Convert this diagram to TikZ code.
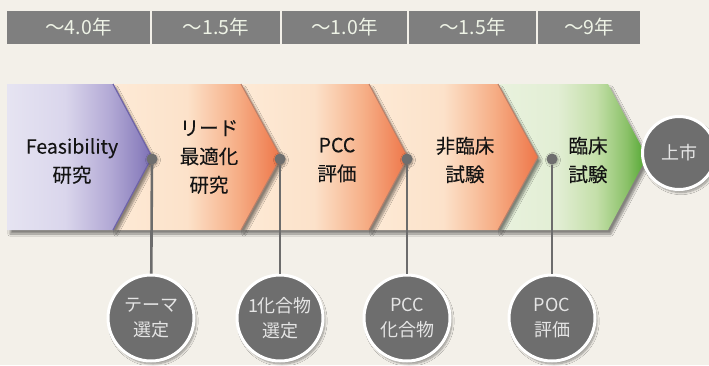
\documentclass[tikz,border=0pt]{standalone}
\usepackage{fontspec}
\setmainfont{Noto Sans CJK JP}
\newfontfamily\labfont{Noto Sans CJK JP}[FakeBold=0.15]
\usetikzlibrary{shadows,shadows.blur}
\definecolor{bg}{HTML}{F3F0E9}
\definecolor{bar}{HTML}{7F7F7F}
\definecolor{bartext}{HTML}{EEF3E6}
\definecolor{disc}{HTML}{6E6E6E}
\definecolor{stemc}{HTML}{6C6C6C}
\definecolor{oedge}{HTML}{B8806A}
\definecolor{pedge}{HTML}{6E63A8}
\definecolor{pA}{HTML}{E6E4F2}
\definecolor{pB}{HTML}{DAD6EC}
\definecolor{pC}{HTML}{B4ABD6}
\definecolor{pD}{HTML}{9186C1}
\definecolor{pE}{HTML}{7B6EB4}
\definecolor{oA}{HTML}{FDEAD6}
\definecolor{oB}{HTML}{FCE2CA}
\definecolor{oC}{HTML}{F6AE86}
\definecolor{oE}{HTML}{EE7548}
\definecolor{gA}{HTML}{E9F2DE}
\definecolor{gB}{HTML}{E2EED4}
\definecolor{gC}{HTML}{C4DFA9}
\definecolor{gD}{HTML}{8CC26A}
\definecolor{gE}{HTML}{4FA52E}
% stops 25bp..75bp span the path's bounding box
\pgfdeclarehorizontalshading{purpsh}{100bp}{%
  color(0bp)=(pA); color(25bp)=(pA); color(45bp)=(pB); color(60bp)=(pC);
  color(70bp)=(pD); color(75bp)=(pE); color(100bp)=(pE)}
\pgfdeclarehorizontalshading{orsh}{100bp}{%
  color(0bp)=(oA); color(25bp)=(oA); color(47bp)=(oB); color(62bp)=(oC);
  color(75bp)=(oE); color(100bp)=(oE)}
\pgfdeclarehorizontalshading{grsh}{100bp}{%
  color(0bp)=(gA); color(25bp)=(gA); color(45bp)=(gB); color(58bp)=(gC);
  color(68bp)=(gD); color(75bp)=(gE); color(100bp)=(gE)}
\tikzset{
  x=1pt, y=-1pt,
  yr/.style={fill=bar, text=bartext, minimum height=33pt, inner sep=0pt,
    font=\fontsize{19.5}{22}\selectfont},
  chev/.style={blur shadow={shadow xshift=3pt, shadow yshift=-4pt, shadow blur steps=10, shadow opacity=45}},
  lab/.style={align=center, text=black!92, font=\labfont\fontsize{19.5}{28.5}\selectfont},
  dotc/.style={circle, fill=disc, minimum size=11pt, inner sep=0pt,
    blur shadow={shadow xshift=1pt, shadow yshift=-1pt, shadow blur steps=4, shadow opacity=30}},
  stem/.style={draw=stemc, line width=2.6pt},
  mile/.style={circle, fill=disc, draw=white, line width=3pt, minimum size=86pt, inner sep=0pt,
    align=center, text=white!90!black, font=\fontsize{18}{25}\selectfont,
    blur shadow={shadow xshift=2pt, shadow yshift=-3pt, shadow blur steps=8, shadow opacity=40}},
}
\begin{document}
\begin{tikzpicture}
\useasboundingbox[fill=bg] (0,0) rectangle (709,365);
% top bar
\node[yr, minimum width=143pt] (y1) at (78.5,27.5) {〜4.0年};
\node[yr, minimum width=128pt] (y2) at (216,27.5) {〜1.5年};
\node[yr, minimum width=125pt] (y3) at (344.5,27.5) {〜1.0年};
\node[yr, minimum width=127pt] (y4) at (472.5,27.5) {〜1.5年};
\node[yr, minimum width=102pt] (y5) at (589,27.5) {〜9年};
% chevrons (right to left so the earlier ones lie on top)
\path[chev, shading=grsh]
  (498,84) -- (608,84) -- (647,157) -- (608,230) -- (498,230) -- cycle;
\path[chev, shading=orsh]
  (369,84) -- (498,84) -- (538,157) -- (498,230) -- (369,230) -- cycle;
\draw[oedge, line width=1pt] (498,84) -- (538,157) -- (498,230);
\path[chev, shading=orsh]
  (241,84) -- (369,84) -- (408,157) -- (369,230) -- (241,230) -- cycle;
\draw[oedge, line width=1pt] (369,84) -- (408,157) -- (369,230);
\path[chev, shading=orsh]
  (113,84) -- (241,84) -- (281,157) -- (241,230) -- (113,230) -- cycle;
\draw[oedge, line width=1pt] (241,84) -- (281,157) -- (241,230);
\path[chev, shading=purpsh]
  (7,84) -- (113,84) -- (152,157) -- (113,230) -- (7,230) -- cycle;
\draw[pedge, line width=1.2pt] (113,84) -- (152,157) -- (113,230);
% labels
\node[lab] (l1) at (72,161) {Feasibility\\研究};
\node[lab] (l2) at (209,157) {リード\\最適化\\研究};
\node[lab] (l3) at (337,160) {PCC\\評価};
\node[lab] (l4) at (465,160) {非臨床\\試験};
\node[lab] (l5) at (588,160) {臨床\\試験};
% end circle
\node[mile, minimum size=73pt, font=\fontsize{18}{20}\selectfont] (end) at (679,153) {上市};
% dots
\node[dotc] (d1) at (152,159) {};
\node[dotc] (d2) at (280,159) {};
\node[dotc] (d3) at (407,159) {};
\node[dotc] (d4) at (552,159) {};
% milestones
\node[mile] (m1) at (151,318) {テーマ\\選定};
\node[mile] (m2) at (280,318) {1化合物\\選定};
\node[mile] (m3) at (407,318) {PCC\\化合物};
\node[mile] (m4) at (552,318) {POC\\評価};
% stems
\draw[stem] (d1) -- (m1);
\draw[stem] (d2) -- (m2);
\draw[stem] (d3) -- (m3);
\draw[stem] (d4) -- (m4);
\end{tikzpicture}
\end{document}
